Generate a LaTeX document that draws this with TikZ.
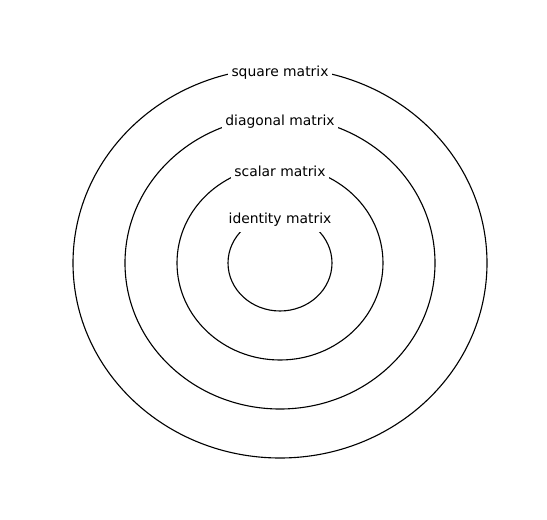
\documentclass[tikz,border=0pt]{standalone}
\usepackage{fontspec}
\setmainfont{DejaVu Sans}
\usepackage{tikz}

\begin{document}
\begin{tikzpicture}[x=0.72pt,y=-0.72pt]
        \tikzset{setname/.style={fill=white,inner sep=2.5pt,font=\fontsize{10}{12}\selectfont}}
        \useasboundingbox (0,0) rectangle (547,520);
        \coordinate (c) at (280,263);
        \draw[line width=0.8pt] (c) ellipse[x radius=207,y radius=195];
        \draw[line width=0.8pt] (c) ellipse[x radius=155,y radius=146];
        \draw[line width=0.8pt] (c) ellipse[x radius=103,y radius=97];
        \draw[line width=0.8pt] (c) ellipse[x radius=52,y radius=48];

        \node[setname] (square) at (280,73) {square matrix};
        \node[setname] (diagonal) at (280,122) {diagonal matrix};
        \node[setname] (scalar) at (280,171) {scalar matrix};
        \node[setname,inner sep=3.5pt] (identity) at (280,220) {identity matrix};
    \end{tikzpicture}
\end{document}
